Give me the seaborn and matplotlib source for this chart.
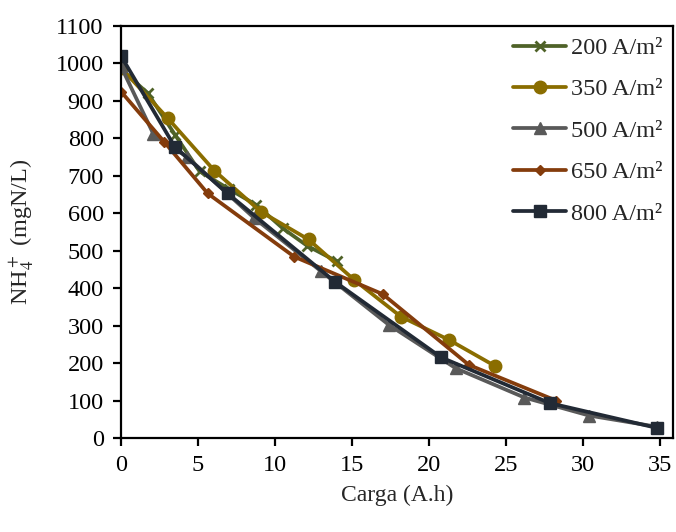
import numpy as np
import pandas as pd
import matplotlib
matplotlib.use("Agg")
import matplotlib.pyplot as plt
import seaborn as sns

# carga (A.h) and NH4+ (mgN/L)
x_200 = [0, 1.75, 3.5, 5.1, 7.0, 8.8, 10.5, 12.1, 14.0]
y_200 = [985, 920, 810, 712, 665, 622, 560, 513, 472]

x_350 = [0, 3.03, 6.06, 9.09, 12.18, 15.15, 18.18, 21.3, 24.3]
y_350 = [988, 854, 714, 604, 530, 422, 324, 262, 192]

x_500 = [0, 2.1, 4.3, 8.66, 13.0, 17.4, 21.75, 26.2, 30.4, 34.8]
y_500 = [992, 812, 750, 587, 445, 302, 186, 108, 60, 30]

x_650 = [0, 2.8, 5.63, 11.25, 17.0, 22.6, 28.25]
y_650 = [925, 791, 653, 484, 384, 195, 100]

x_800 = [0, 3.5, 6.92, 13.9, 20.8, 27.86, 34.8]
y_800 = [1020, 777, 653, 417, 215, 93, 27]

labels = ["200 A/m²", "350 A/m²", "500 A/m²", "650 A/m²", "800 A/m²"]

sns.set_style("ticks")
plt.rcParams["font.family"] = ["Liberation Serif", "DejaVu Serif"]
plt.rcParams["mathtext.fontset"] = "stix"
plt.rcParams["font.size"] = 17.5

fig = plt.figure(figsize=(6.76, 5.32), dpi=100)
ax = fig.add_axes([121 / 676, 1 - 438 / 532, (673 - 121) / 676, (438 - 26) / 532])

series = [
    (x_200, y_200, labels[0], "#4F6228", "x", 7, 2),
    (x_350, y_350, labels[1], "#8A6D00", "o", 9, 1),
    (x_500, y_500, labels[2], "#595959", "^", 8.5, 1),
    (x_650, y_650, labels[3], "#843C0C", "D", 5, 1),
    (x_800, y_800, labels[4], "#222A35", "s", 9, 1),
]
for xs, ys, lab, col, mk, ms, mew in series:
    df = pd.DataFrame({"Carga": xs, "NH4": ys})
    sns.lineplot(data=df, x="Carga", y="NH4", ax=ax, color=col, marker=mk,
                 markersize=ms, markeredgewidth=mew, markeredgecolor=col,
                 linewidth=2.7, label=lab)

ax.set_xlim(0, 35.85)
ax.set_ylim(0, 1100)
ax.set_xticks(np.arange(0, 36, 5))
ax.set_yticks(np.arange(0, 1101, 100))
ax.tick_params(axis="both", direction="out", length=5.5, width=1.6, pad=7,
               labelsize=17.5, colors="black")
for sp in ax.spines.values():
    sp.set_linewidth(1.6)
    sp.set_color("black")

ax.set_xlabel("Carga (A.h)", fontsize=17)
ax.set_ylabel(r"NH$_4^+$ (mgN/L)", fontsize=17.5)
ax.xaxis.set_label_coords(0.5, (438 - 495) / 412)
ax.xaxis.label.set_va("center")
ax.yaxis.set_label_coords((22 - 121) / 552, 0.5)
ax.yaxis.label.set_va("center")

ax.legend(loc="upper left", bbox_to_anchor=(513 / 676, 1 - 37 / 532),
          bbox_transform=fig.transFigure, frameon=False, borderpad=0,
          borderaxespad=0, handlelength=2.2, handletextpad=0.2,
          labelspacing=0.8, fontsize=17.5)

fig.savefig("out.png", dpi=100)
